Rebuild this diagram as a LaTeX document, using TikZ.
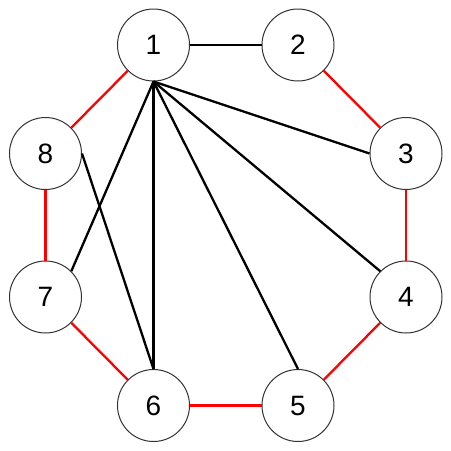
\documentclass[tikz,border=0pt]{standalone}
\usepackage{fontspec}
\setmainfont{Liberation Sans}
\begin{document}
\begin{tikzpicture}[x=1pt, y=-1pt]
        \tikzstyle{vertex}=[circle,draw=black!80,line width=1pt,fill=white,inner sep=0pt,minimum size=72pt,font=\fontsize{28}{32}\selectfont]
        \tikzstyle{cut}=[line width=2.3pt,draw=red]
        \tikzstyle{chord}=[line width=2.3pt,draw=black]

        \useasboundingbox (0,0) rectangle (451,451);

        \node (v1)[vertex] at (153.5,45) {1};
        \node (v2)[vertex] at (298,45) {2};
        \node (v3)[vertex] at (406,153.5) {3};
        \node (v4)[vertex] at (406,297) {4};
        \node (v5)[vertex] at (298,405.5) {5};
        \node (v6)[vertex] at (153.5,405.5) {6};
        \node (v7)[vertex] at (45.5,297) {7};
        \node (v8)[vertex] at (45.5,153.5) {8};

        % outer ring
        \draw[chord] (v1.east) -- (v2.west);
        \draw[cut] (v2.south east) -- (v3.north west);
        \draw[cut] (v3.south) -- (v4.north);
        \draw[cut] (v4.south west) -- (v5.north east);
        \draw[cut] (v5.west) -- (v6.east);
        \draw[cut] (v6.north west) -- (v7.south east);
        \draw[cut] (v7.north) -- (v8.south);
        \draw[cut] (v8.north east) -- (v1.south west);

        % chords
        \draw[chord] (v1.south) -- (v3.west);
        \draw[chord] (v1.south) -- (v4.north west);
        \draw[chord] (v1.south) -- (v5.north);
        \draw[chord] (v1.south) -- (v6.north);
        \draw[chord] (v1.south) -- (v7.north east);
        \draw[chord] (v8.east) -- (v6.north);
    \end{tikzpicture}
\end{document}
